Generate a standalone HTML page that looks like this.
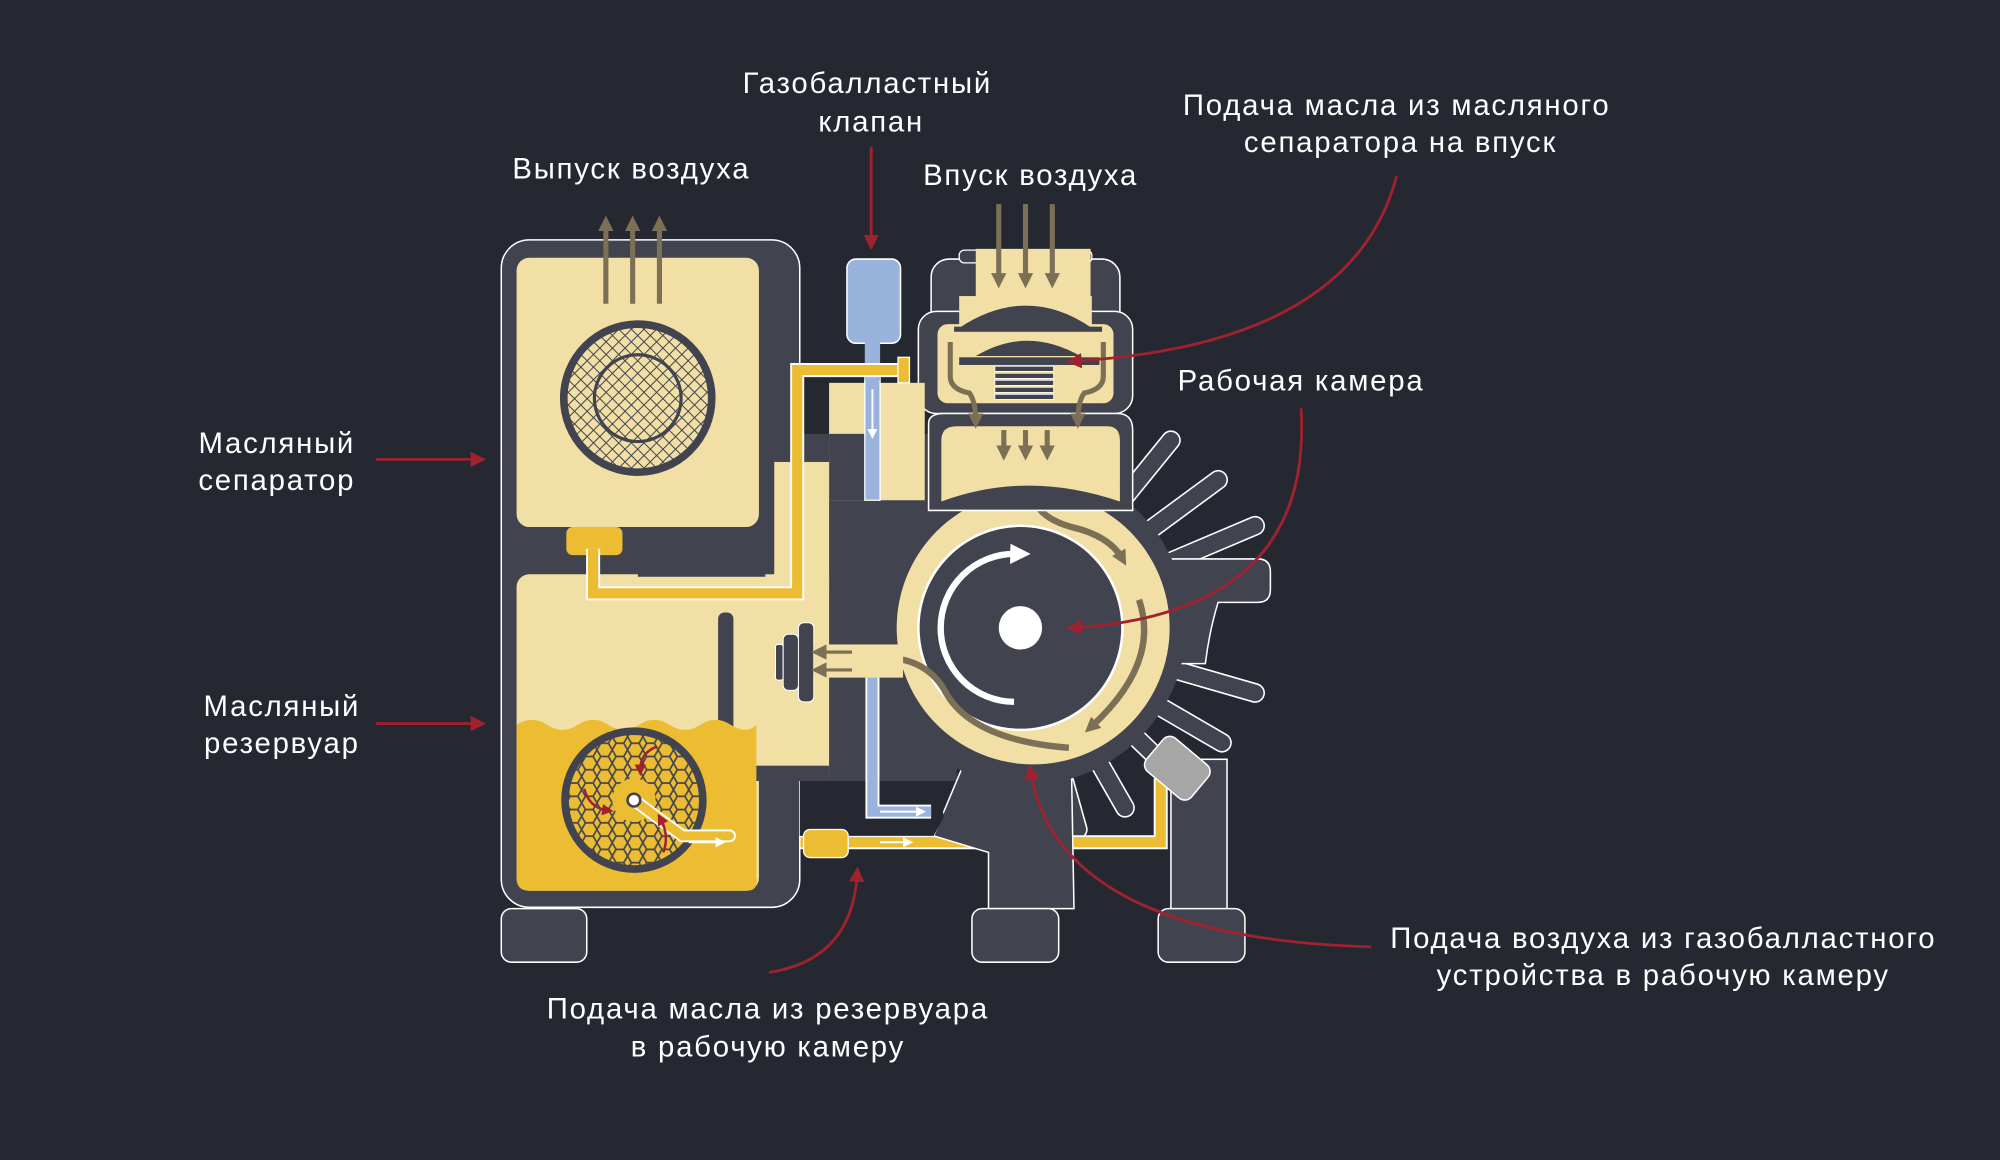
<!DOCTYPE html>
<html><head><meta charset="utf-8"><style>
html,body{margin:0;padding:0;background:#262831;}
svg{display:block}
text{font-family:"Liberation Sans","DejaVu Sans",sans-serif;fill:#ffffff;font-size:23px;text-anchor:middle;letter-spacing:1.4px}
</style></head><body>
<svg width="2000" height="1160" viewBox="0 0 1568 909" preserveAspectRatio="none" xmlns="http://www.w3.org/2000/svg">
<defs>
<pattern id="hatch" width="7" height="7" patternUnits="userSpaceOnUse" patternTransform="rotate(45)">
<rect width="7" height="7" fill="#f2dfa6"/><path d="M0 0H7M0 0V7" stroke="#41444e" stroke-width="1.6"/></pattern>
<pattern id="hex" width="12" height="10.4" patternUnits="userSpaceOnUse">
<rect width="12" height="10.4" fill="#ecbc33"/><path d="M3 0L0 5.2L3 10.4M3 0H9L12 5.2L9 10.4H3M0 5.2" fill="none" stroke="#41444e" stroke-width="1.3"/></pattern>
<marker id="ar" markerWidth="12" markerHeight="12" refX="6" refY="6" orient="auto" markerUnits="userSpaceOnUse"><path d="M0,0 L12,6 L0,12z" fill="#a0222f"/></marker>
<marker id="ars" markerWidth="9" markerHeight="9" refX="4" refY="4.5" orient="auto" markerUnits="userSpaceOnUse"><path d="M0,0 L9,4.5 L0,9z" fill="#a0222f"/></marker>
<marker id="br" markerWidth="12" markerHeight="12" refX="6" refY="6" orient="auto" markerUnits="userSpaceOnUse"><path d="M0,0 L12,6 L0,12z" fill="#7b6f56"/></marker>
<marker id="wh" markerWidth="16" markerHeight="16" refX="4" refY="8" orient="auto" markerUnits="userSpaceOnUse"><path d="M0,0 L16,8 L0,16z" fill="#fff"/></marker>
<marker id="ws" markerWidth="8" markerHeight="8" refX="4" refY="4" orient="auto" markerUnits="userSpaceOnUse"><path d="M0,0 L8,4 L0,8z" fill="#fff"/></marker>
</defs>
<rect width="1568" height="909" fill="#262831"/>

<rect x="590" y="340" width="160" height="272" fill="#41444e"/>

<g stroke-linecap="round" fill="none">
<g stroke="#fff" stroke-width="15.5">
<line x1="800" y1="490" x2="918" y2="345"/><line x1="800" y1="490" x2="955" y2="376"/>
<line x1="800" y1="490" x2="984" y2="412"/><line x1="800" y1="490" x2="984" y2="543"/>
<line x1="800" y1="490" x2="958" y2="582"/><line x1="800" y1="490" x2="927" y2="613"/>
<line x1="800" y1="490" x2="882" y2="633"/><line x1="800" y1="490" x2="845" y2="650"/>
</g>
<g stroke="#41444e" stroke-width="13">
<line x1="800" y1="490" x2="918" y2="345"/><line x1="800" y1="490" x2="955" y2="376"/>
<line x1="800" y1="490" x2="984" y2="412"/><line x1="800" y1="490" x2="984" y2="543"/>
<line x1="800" y1="490" x2="958" y2="582"/><line x1="800" y1="490" x2="927" y2="613"/>
<line x1="800" y1="490" x2="882" y2="633"/><line x1="800" y1="490" x2="845" y2="650"/>
</g></g>
<path d="M900 438 H986 Q996 438 996 448 V462 Q996 472 986 472 H955 Q948 495 945 520 L900 520Z" fill="#41444e" stroke="#fff" stroke-width="1.2"/>
<rect x="918" y="595" width="44" height="120" fill="#41444e" stroke="#fff" stroke-width="1.2"/>
<path d="M575 660 H910 V610" fill="none" stroke="#fff" stroke-width="11"/>
<path d="M575 660 H910 V610" fill="none" stroke="#ecbc33" stroke-width="8"/>
<path d="M732 655 L755 600 L840 600 L842 712 H775 V668 Z" fill="#41444e" stroke="#fff" stroke-width="1.2"/>
<rect x="900" y="585" width="46" height="34" rx="7" fill="#a6a6a6" stroke="#fff" stroke-width="1.2" transform="rotate(40 923 602)"/>
<circle cx="805" cy="490" r="125" fill="#41444e"/>
<circle cx="810" cy="492" r="107" fill="#f2dfa6"/>
<circle cx="800" cy="492" r="81" fill="#fff"/>
<circle cx="800" cy="492" r="79" fill="#41444e"/>
<path d="M795 550 A58 58 0 0 1 796 434" fill="none" stroke="#fff" stroke-width="5" marker-end="url(#wh)"/>
<circle cx="800" cy="492" r="17" fill="#fff"/>
<g fill="none" stroke="#7b6f56" stroke-width="5">
<path d="M810 387 Q812 405 840 413 Q870 420 880 438" marker-end="url(#br)"/>
<path d="M893 470 Q910 520 855 570" marker-end="url(#br)"/>
<path d="M838 586 Q760 580 740 540 Q725 515 690 515" marker-end="url(#br)"/>
</g>

<rect x="730" y="203" width="148" height="60" rx="14" fill="#41444e" stroke="#fff" stroke-width="1.2"/>
<rect x="752" y="196" width="104" height="10" rx="4" fill="#41444e" stroke="#fff" stroke-width="1"/>
<rect x="720" y="244" width="168" height="80" rx="14" fill="#41444e" stroke="#fff" stroke-width="1.2"/>
<rect x="765" y="195" width="90" height="40" fill="#f2dfa6"/>
<rect x="752" y="232" width="104" height="25" fill="#f2dfa6"/>
<rect x="735" y="254" width="138" height="62" rx="8" fill="#f2dfa6"/>
<path d="M752 257 Q805 222 856 257 Z" fill="#41444e"/>
<rect x="748" y="256" width="116" height="4" fill="#41444e"/>
<path d="M765 279 Q805 255 847 279 Z" fill="#41444e"/>
<rect x="752" y="280" width="110" height="6" fill="#41444e"/>
<g fill="#41444e" stroke="#fff" stroke-width="0.6">
<rect x="780" y="287" width="46" height="4"/><rect x="780" y="292.5" width="46" height="4"/><rect x="780" y="298" width="46" height="4"/><rect x="780" y="303.5" width="46" height="4"/><rect x="780" y="309" width="46" height="4"/></g>
<path d="M728 332 Q728 324 740 324 H876 Q888 324 888 337 V400 L728 400Z" fill="#41444e" stroke="#fff" stroke-width="1.2"/>
<path d="M738 345 Q738 334 750 334 H868 Q878 334 878 345 V393 Q805 368 738 393Z" fill="#f2dfa6"/>
<g fill="none" stroke="#7b6f56" stroke-width="4">
<line x1="783" y1="160" x2="783" y2="220" marker-end="url(#br)"/>
<line x1="804" y1="160" x2="804" y2="220" marker-end="url(#br)"/>
<line x1="825" y1="160" x2="825" y2="220" marker-end="url(#br)"/>
<path d="M745 268 V295 Q745 305 760 308 Q765 315 765 330" marker-end="url(#br)"/>
<path d="M865 268 V295 Q865 305 850 308 Q845 315 845 330" marker-end="url(#br)"/>
<line x1="787" y1="337" x2="787" y2="355" marker-end="url(#br)"/>
<line x1="804" y1="337" x2="804" y2="355" marker-end="url(#br)"/>
<line x1="821" y1="337" x2="821" y2="355" marker-end="url(#br)"/>
</g>

<rect x="650" y="300" width="75" height="92" fill="#f2dfa6"/>
<rect x="650" y="340" width="33" height="52" fill="#41444e"/>
<rect x="678" y="296" width="12" height="96" fill="#9ab3dd" stroke="#fff" stroke-width="1"/>
<line x1="684" y1="305" x2="684" y2="340" stroke="#fff" stroke-width="1.5" marker-end="url(#ws)"/>
<rect x="664" y="203" width="42" height="66" rx="7" fill="#9ab3dd" stroke="#fff" stroke-width="1.2"/>
<rect x="678" y="268" width="12" height="30" fill="#9ab3dd"/>

<rect x="393" y="188" width="234" height="523" rx="22" fill="#41444e" stroke="#fff" stroke-width="1.2"/>
<rect x="405" y="202" width="190" height="211" rx="10" fill="#f2dfa6"/>
<rect x="405" y="450" width="190" height="248" rx="10" fill="#f2dfa6"/>
<rect x="575" y="450" width="75" height="160" fill="#f2dfa6"/>
<rect x="607" y="362" width="43" height="100" fill="#f2dfa6"/>
<rect x="563" y="480" width="12" height="130" rx="5" fill="#41444e"/>
<rect x="563" y="600" width="87" height="12" fill="#41444e"/>
<path d="M500 452 Q500 438 515 438 H600 V452 Z" fill="#41444e"/>
<rect x="565" y="430" width="10" height="10" rx="3" fill="#41444e"/>
<path d="M405 568 q12 -8 24 0 t24 0 t24 0 t24 0 t24 0 t24 0 t24 0 t20 0 V688 Q595 698 585 698 H415 Q405 698 405 688Z" fill="#ecbc33"/>
<circle cx="500" cy="312" r="58" fill="url(#hatch)" stroke="#41444e" stroke-width="6"/>
<circle cx="500" cy="312" r="34" fill="none" stroke="#41444e" stroke-width="2.5"/>
<g fill="none" stroke="#7b6f56" stroke-width="4">
<line x1="475" y1="238" x2="475" y2="175" marker-end="url(#br)"/>
<line x1="496" y1="238" x2="496" y2="175" marker-end="url(#br)"/>
<line x1="517" y1="238" x2="517" y2="175" marker-end="url(#br)"/>
</g>
<rect x="444" y="413" width="44" height="22" rx="5" fill="#ecbc33"/>
<path d="M465 430 V465 H625 V290 H712" fill="none" stroke="#fff" stroke-width="11"/>
<path d="M465 430 V465 H625 V290 H712" fill="none" stroke="#ecbc33" stroke-width="8"/>
<rect x="704" y="280" width="9" height="20" fill="#ecbc33" stroke="#fff" stroke-width="1"/>
<circle cx="497" cy="627" r="54" fill="url(#hex)" stroke="#41444e" stroke-width="6"/>
<circle cx="497" cy="627" r="17" fill="#ecbc33"/>
<path d="M497 627 L535 655 H572" fill="none" stroke="#fff" stroke-width="10" stroke-linecap="round"/>
<path d="M497 627 L535 655 H572" fill="none" stroke="#ecbc33" stroke-width="7" stroke-linecap="round"/>
<circle cx="497" cy="627" r="5" fill="#fff" stroke="#41444e" stroke-width="2"/>
<line x1="540" y1="660" x2="565" y2="660" stroke="#fff" stroke-width="1.5" marker-end="url(#ws)"/>
<g fill="none" stroke="#a0222f" stroke-width="2">
<path d="M515 585 Q502 590 502 603" marker-end="url(#ars)"/>
<path d="M458 618 Q462 633 476 635" marker-end="url(#ars)"/>
<path d="M520 668 Q525 655 518 642" marker-end="url(#ars)"/>
</g>

<rect x="608" y="505" width="6" height="28" rx="2" fill="#41444e" stroke="#fff" stroke-width="0.8"/>
<rect x="614" y="497" width="12" height="44" rx="4" fill="#41444e" stroke="#fff" stroke-width="0.8"/>
<rect x="626" y="488" width="12" height="62" rx="4" fill="#41444e" stroke="#fff" stroke-width="0.8"/>
<rect x="638" y="505" width="70" height="26" fill="#f2dfa6"/>
<g stroke="#7b6f56" stroke-width="2.5"><line x1="668" y1="511" x2="642" y2="511" marker-end="url(#br)"/><line x1="668" y1="525" x2="642" y2="525" marker-end="url(#br)"/></g>
<path d="M627 612 H735 L740 640 L732 655 H627Z" fill="#262831"/>
<path d="M684 531 V636 H730" fill="none" stroke="#fff" stroke-width="11"/>
<path d="M684 531 V636 H730" fill="none" stroke="#9ab3dd" stroke-width="8"/>
<line x1="690" y1="636" x2="722" y2="636" stroke="#fff" stroke-width="1.5" marker-end="url(#ws)"/>
<rect x="630" y="650" width="35" height="22" rx="5" fill="#ecbc33" stroke="#fff" stroke-width="1"/>
<line x1="690" y1="660" x2="712" y2="660" stroke="#fff" stroke-width="1.5" marker-end="url(#ws)"/>

<rect x="393" y="712" width="67" height="42" rx="8" fill="#41444e" stroke="#fff" stroke-width="1.2"/>
<rect x="762" y="712" width="68" height="42" rx="8" fill="#41444e" stroke="#fff" stroke-width="1.2"/>
<rect x="908" y="712" width="68" height="42" rx="8" fill="#41444e" stroke="#fff" stroke-width="1.2"/>

<g fill="none" stroke="#a0222f" stroke-width="2.2">
<line x1="295" y1="360" x2="375" y2="360" marker-end="url(#ar)"/>
<line x1="295" y1="567" x2="375" y2="567" marker-end="url(#ar)"/>
<line x1="683" y1="115" x2="683" y2="190" marker-end="url(#ar)"/>
<path d="M1095 138 Q1060 270 842 283" marker-end="url(#ar)"/>
<path d="M1020 320 Q1030 480 842 492" marker-end="url(#ar)"/>
<path d="M1075 742 Q830 735 808 605" marker-end="url(#ar)"/>
<path d="M603 762 Q668 752 672 685" marker-end="url(#ar)"/>
</g>

<text x="680" y="73">Газобалластный</text>
<text x="683" y="103">клапан</text>
<text x="495" y="140">Выпуск воздуха</text>
<text x="808" y="145">Впуск воздуха</text>
<text x="1095" y="90">Подача масла из масляного</text>
<text x="1098" y="119">сепаратора на впуск</text>
<text x="1020" y="306">Рабочая камера</text>
<text x="217" y="355">Масляный</text>
<text x="217" y="384">сепаратор</text>
<text x="221" y="561">Масляный</text>
<text x="221" y="590">резервуар</text>
<text x="1304" y="743">Подача воздуха из газобалластного</text>
<text x="1304" y="772">устройства в рабочую камеру</text>
<text x="602" y="798">Подача масла из резервуара</text>
<text x="602" y="828">в рабочую камеру</text>
</svg>
</body></html>
